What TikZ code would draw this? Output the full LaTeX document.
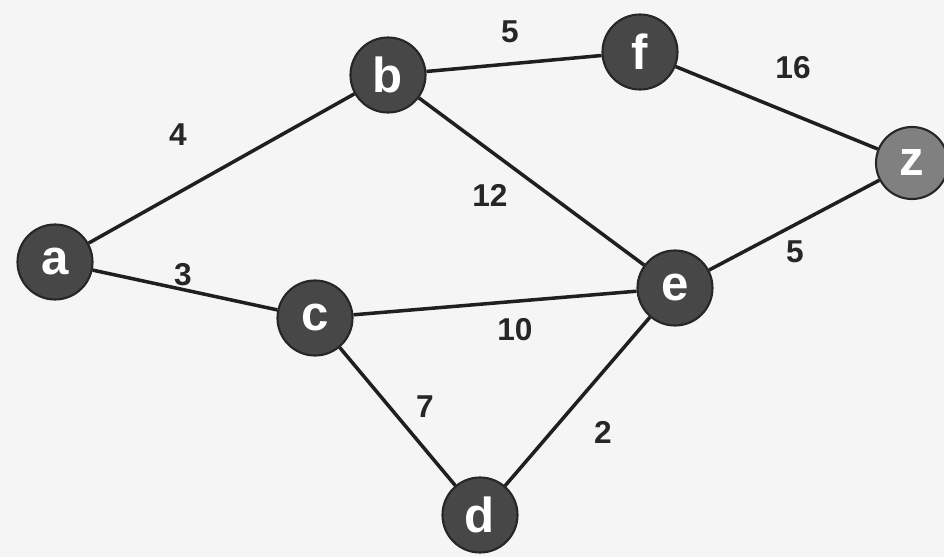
\documentclass[tikz,border=0pt]{standalone}
\usepackage{fontspec}
\setmainfont{Liberation Sans}
\begin{document}
\begin{tikzpicture}[x=0.02cm,y=-0.02cm,
  vert/.style={circle,draw=black!85,line width=1.2pt,fill=black!72,text=white,minimum size=75*0.02cm,inner sep=0pt,font=\fontsize{28}{30}\selectfont\bfseries},
  edge/.style={line width=2pt,black!88},
  wlabel/.style={font=\fontsize{18}{20}\selectfont\bfseries,text=black!85}]
\fill[black!4] (0,0) rectangle (944,557);
\useasboundingbox (0,0) rectangle (944,557);
\node[vert] (a) at (55,262) {a};
\node[vert] (b) at (388,75) {b};
\node[vert] (f) at (640,52) {f};
\node[vert,fill=black!50,minimum size=72*0.02cm] (z) at (912,163) {z};
\node[vert] (c) at (315,318) {c};
\node[vert] (e) at (675,288) {e};
\node[vert] (d) at (480,515) {d};
\draw[edge] (a) -- (b);
\draw[edge] (a) -- (c);
\draw[edge] (b) -- (f);
\draw[edge] (b) -- (e);
\draw[edge] (f) -- (z);
\draw[edge] (c) -- (e);
\draw[edge] (c) -- (d);
\draw[edge] (e) -- (d);
\draw[edge] (e) -- (z);
\node[wlabel] (l1) at (510,32) {5};
\node[wlabel] (l2) at (793,68) {16};
\node[wlabel] (l3) at (178,135) {4};
\node[wlabel] (l4) at (490,195) {12};
\node[wlabel] (l5) at (183,275) {3};
\node[wlabel] (l6) at (795,252) {5};
\node[wlabel] (l7) at (515,330) {10};
\node[wlabel] (l8) at (425,407) {7};
\node[wlabel] (l9) at (603,432) {2};
\end{tikzpicture}
\end{document}
